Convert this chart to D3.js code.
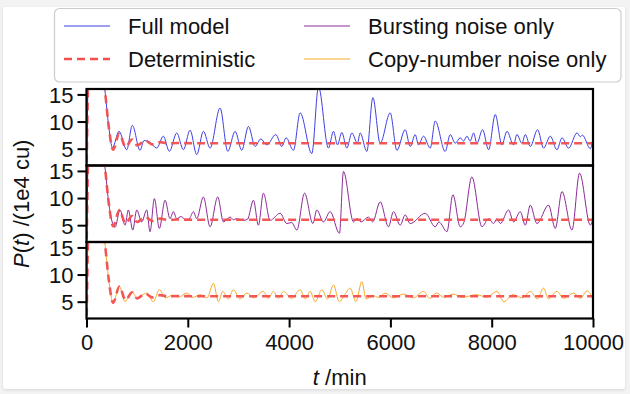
<!DOCTYPE html>
<html><head><meta charset="utf-8">
<script src="https://cdn.jsdelivr.net/npm/d3@7"></script>
<style>
html,body{margin:0;padding:0;background:#f3f3f3;}
svg{display:block;}
text{font-family:"Liberation Sans",Arial,sans-serif;fill:#111;}
</style></head>
<body>
<svg id="chart" width="630" height="394"></svg>
<script>
// ---- data (t in min, P in 1e4 cu) ----
const xTicks = [0, 2000, 4000, 6000, 8000, 10000];
const yTicks = [5, 10, 15];
const seriesNames = ["Full model", "Deterministic", "Bursting noise only", "Copy-number noise only"];

const deterministic = [[0,0],[60,25],[250,22],[360,16],[440,9],[525,4.8],[650,7.8],[770,5.3],[900,6.7],[1000,5.6],[1160,6.5],[1300,5.8],[1450,6.2],[1600,5.95],[1800,6.05],[2100,6.0],[10000,6.0]];

const fullModel = [[0,0],[60,25],[250,22],[360,16],[440,9],[513,5.2],[642,8.2],[794,4.8],[905,9.3],[1057,4.7],[1136,6.5],[1250,6.2],[1387,5.1],[1517,7.3],[1636,4.5],[1782,7.9],[1913,4.8],[2045,8.4],[2177,3.9],[2308,8.2],[2440,5.1],[2637,12.5],[2789,4.5],[2934,8.2],[3066,4.7],[3197,9.1],[3329,5.4],[3441,6.8],[3560,5.7],[3738,7.6],[3856,5.4],[3941,7.0],[4086,4.7],[4218,11.6],[4449,4.1],[4580,16.4],[4777,5.1],[4876,8.2],[4955,5.7],[5041,8.0],[5140,5.1],[5239,7.9],[5350,6.0],[5403,7.9],[5535,4.5],[5654,14.4],[5798,6.0],[5996,11.6],[6128,4.7],[6292,8.5],[6391,5.4],[6490,7.6],[6555,5.7],[6654,7.3],[6786,5.1],[6885,10.1],[7082,4.5],[7181,7.6],[7280,6.0],[7379,7.0],[7445,6.4],[7511,7.3],[7576,6.4],[7642,7.9],[7708,6.0],[7820,8.5],[7939,4.8],[8070,11.3],[8202,5.7],[8301,8.2],[8432,5.7],[8498,7.6],[8597,6.0],[8663,7.6],[8762,5.4],[8906,8.5],[9024,5.1],[9157,7.3],[9288,4.8],[9388,7.0],[9518,5.1],[9684,7.9],[9750,7.2],[9790,7.5],[9947,5.0],[10000,7.0]];

const burstingOnly = [[0,0],[60,25],[250,22],[360,16],[440,9],[563,4.6],[662,7.8],[761,5.0],[826,7.8],[913,4.1],[992,7.8],[1090,5.6],[1189,7.8],[1254,3.8],[1340,9.9],[1438,4.4],[1551,9.6],[1649,6.2],[1715,7.5],[1781,6.2],[1870,6.6],[1960,5.9],[2040,6.3],[2110,7.5],[2177,6.2],[2308,10.2],[2440,4.7],[2591,10.2],[2703,5.6],[2835,6.5],[2901,6.0],[2960,6.2],[3100,5.9],[3180,6.1],[3296,9.6],[3394,5.0],[3493,10.9],[3625,5.9],[3823,7.2],[3955,5.3],[4050,5.5],[4153,4.1],[4305,10.9],[4470,5.3],[4547,7.8],[4678,5.6],[4810,7.5],[4994,3.5],[5073,14.9],[5271,5.6],[5340,6.2],[5420,5.6],[5567,6.5],[5650,5.6],[5798,9.3],[5962,4.7],[6061,7.5],[6193,5.0],[6292,6.9],[6391,5.3],[6687,7.2],[6885,4.7],[6960,5.6],[7116,3.8],[7234,10.6],[7379,4.7],[7450,5.5],[7609,13.9],[7807,4.7],[7939,6.2],[8037,5.3],[8103,6.2],[8170,5.3],[8333,7.8],[8432,5.6],[8564,7.5],[8663,5.0],[8762,8.7],[8893,5.3],[9123,8.7],[9255,4.4],[9388,11.2],[9585,4.1],[9735,14.6],[9947,5.0],[10000,6.2]];

const copyNumberOnly = [[0,0],[60,25],[250,22],[360,16],[440,9],[525,4.8],[650,7.8],[761,5.0],[893,6.9],[1000,5.7],[1189,6.6],[1320,5.0],[1438,7.2],[1560,5.7],[1700,6.2],[1820,5.8],[1979,6.6],[2100,5.8],[2250,6.3],[2380,5.7],[2506,8.4],[2604,5.0],[2690,6.9],[2800,5.5],[2901,7.2],[3030,5.5],[3165,6.6],[3300,5.7],[3493,6.9],[3590,5.6],[3691,6.9],[3790,5.6],[3889,6.9],[4050,5.6],[4218,7.2],[4320,5.5],[4415,6.9],[4515,5.0],[4646,7.2],[4760,5.5],[4876,8.1],[4990,5.0],[5100,6.3],[5205,7.5],[5320,5.0],[5436,8.7],[5520,5.5],[5650,6.1],[5770,5.8],[5897,6.6],[6050,5.7],[6259,6.4],[6450,5.7],[6654,6.9],[6780,5.6],[6911,6.6],[7060,5.8],[7240,6.4],[7420,5.8],[7700,6.3],[7900,5.8],[8103,6.9],[8240,5.0],[8420,6.3],[8600,5.7],[8762,6.9],[8900,5.5],[9024,7.5],[9120,5.5],[9288,6.9],[9420,5.6],[9617,6.6],[9750,5.6],[9881,7.0],[10000,5.5]];

// ---- layout ----
const svg = d3.select("#chart");
const colors = {full:"#3f3fe0", det:"#f24f4f", burst:"#8b2a96", copy:"#f7a928"};
const left = 86.5, right = 593, panelTop = 89, panelH = 76.5;
const x = d3.scaleLinear().domain([0, 10000]).range([left, right]);
const yDomain = [1.9, 16];

// card
const defs = svg.append("defs");
const f = defs.append("filter").attr("id","sh").attr("x","-5%").attr("y","-5%").attr("width","110%").attr("height","110%");
f.append("feDropShadow").attr("dx",0).attr("dy",1).attr("stdDeviation",1.5).attr("flood-color","#000").attr("flood-opacity",0.12);
svg.append("rect").attr("x",3).attr("y",7).attr("width",622).attr("height",382).attr("rx",3).attr("fill","#fff").attr("filter","url(#sh)");

const panels = [
  {data: fullModel, color: colors.full},
  {data: burstingOnly, color: colors.burst},
  {data: copyNumberOnly, color: colors.copy}
];

panels.forEach((p, i) => {
  const top = panelTop + i * panelH, bottom = top + panelH;
  const y = d3.scaleLinear().domain(yDomain).range([bottom, top]);
  const cid = "clip" + i;
  defs.append("clipPath").attr("id", cid).append("rect")
    .attr("x", left).attr("y", top).attr("width", right - left).attr("height", panelH);
  const line = d3.line().x(d => x(d[0])).y(d => y(d[1])).curve(d3.curveMonotoneX);
  const g = svg.append("g").attr("clip-path", `url(#${cid})`);
  g.append("path").datum(p.data).attr("d", line).attr("fill","none")
    .attr("stroke", p.color).attr("stroke-width", 1).attr("stroke-linejoin","round");
  g.append("path").datum(deterministic).attr("d", line).attr("fill","none")
    .attr("stroke", colors.det).attr("stroke-width", 2.6).attr("stroke-dasharray","8,5").attr("opacity",0.95);

  const ya = svg.append("g").attr("transform", `translate(${left},0)`)
    .call(d3.axisLeft(y).tickValues(yTicks).tickSize(9).tickPadding(4));
  ya.select(".domain").remove();
  ya.selectAll(".tick line").attr("stroke","#000").attr("stroke-width",2);
  ya.selectAll(".tick text").style("font-size","22px").attr("dy","0.36em")
    .style("font-family","'Liberation Sans',Arial,sans-serif").attr("fill","#111");

  svg.append("rect").attr("x", left).attr("y", top).attr("width", right - left).attr("height", panelH)
    .attr("fill","none").attr("stroke","#000").attr("stroke-width",2.2);
});

const bottomY = panelTop + 3 * panelH;
const xa = svg.append("g").attr("transform", `translate(0,${bottomY})`)
  .call(d3.axisBottom(x).tickValues(xTicks).tickFormat(d3.format("d")).tickSize(9).tickPadding(7));
xa.select(".domain").remove();
xa.selectAll(".tick line").attr("stroke","#000").attr("stroke-width",2);
xa.selectAll(".tick text").style("font-size","22px").attr("dy","0.71em")
  .style("font-family","'Liberation Sans',Arial,sans-serif").attr("fill","#111");

// axis labels
const xl = svg.append("text").attr("x", (left + right) / 2).attr("y", 385).attr("text-anchor","middle").style("font-size","22px");
xl.append("tspan").attr("font-style","italic").text("t");
xl.append("tspan").text(" /min");

const yl = svg.append("text").attr("transform", `translate(29,${panelTop + 1.5 * panelH}) rotate(-90)`)
  .attr("text-anchor","middle").style("font-size","22px");
yl.append("tspan").attr("font-style","italic").text("P");
yl.append("tspan").text("(");
yl.append("tspan").attr("font-style","italic").text("t");
yl.append("tspan").text(") /(1e4 cu)");

// legend
const lg = svg.append("g");
lg.append("rect").attr("x",54.5).attr("y",8.5).attr("width",566.5).attr("height",73.5).attr("rx",5)
  .attr("fill","#fff").attr("stroke","#cccccc").attr("stroke-width",1.2);
const items = [
  {name: seriesNames[0], color: colors.full, dash: null, w: 1, lx: 64, ly: 26},
  {name: seriesNames[1], color: colors.det, dash: "8,5", w: 2.6, lx: 64, ly: 59},
  {name: seriesNames[2], color: colors.burst, dash: null, w: 1, lx: 304, ly: 26},
  {name: seriesNames[3], color: colors.copy, dash: null, w: 1, lx: 304, ly: 59}
];
items.forEach(it => {
  lg.append("line").attr("x1", it.lx).attr("x2", it.lx + 46).attr("y1", it.ly).attr("y2", it.ly)
    .attr("stroke", it.color).attr("stroke-width", it.w).attr("stroke-dasharray", it.dash);
  lg.append("text").attr("x", it.lx + 64).attr("y", it.ly + 8).style("font-size","22px").text(it.name);
});
</script>
</body></html>
